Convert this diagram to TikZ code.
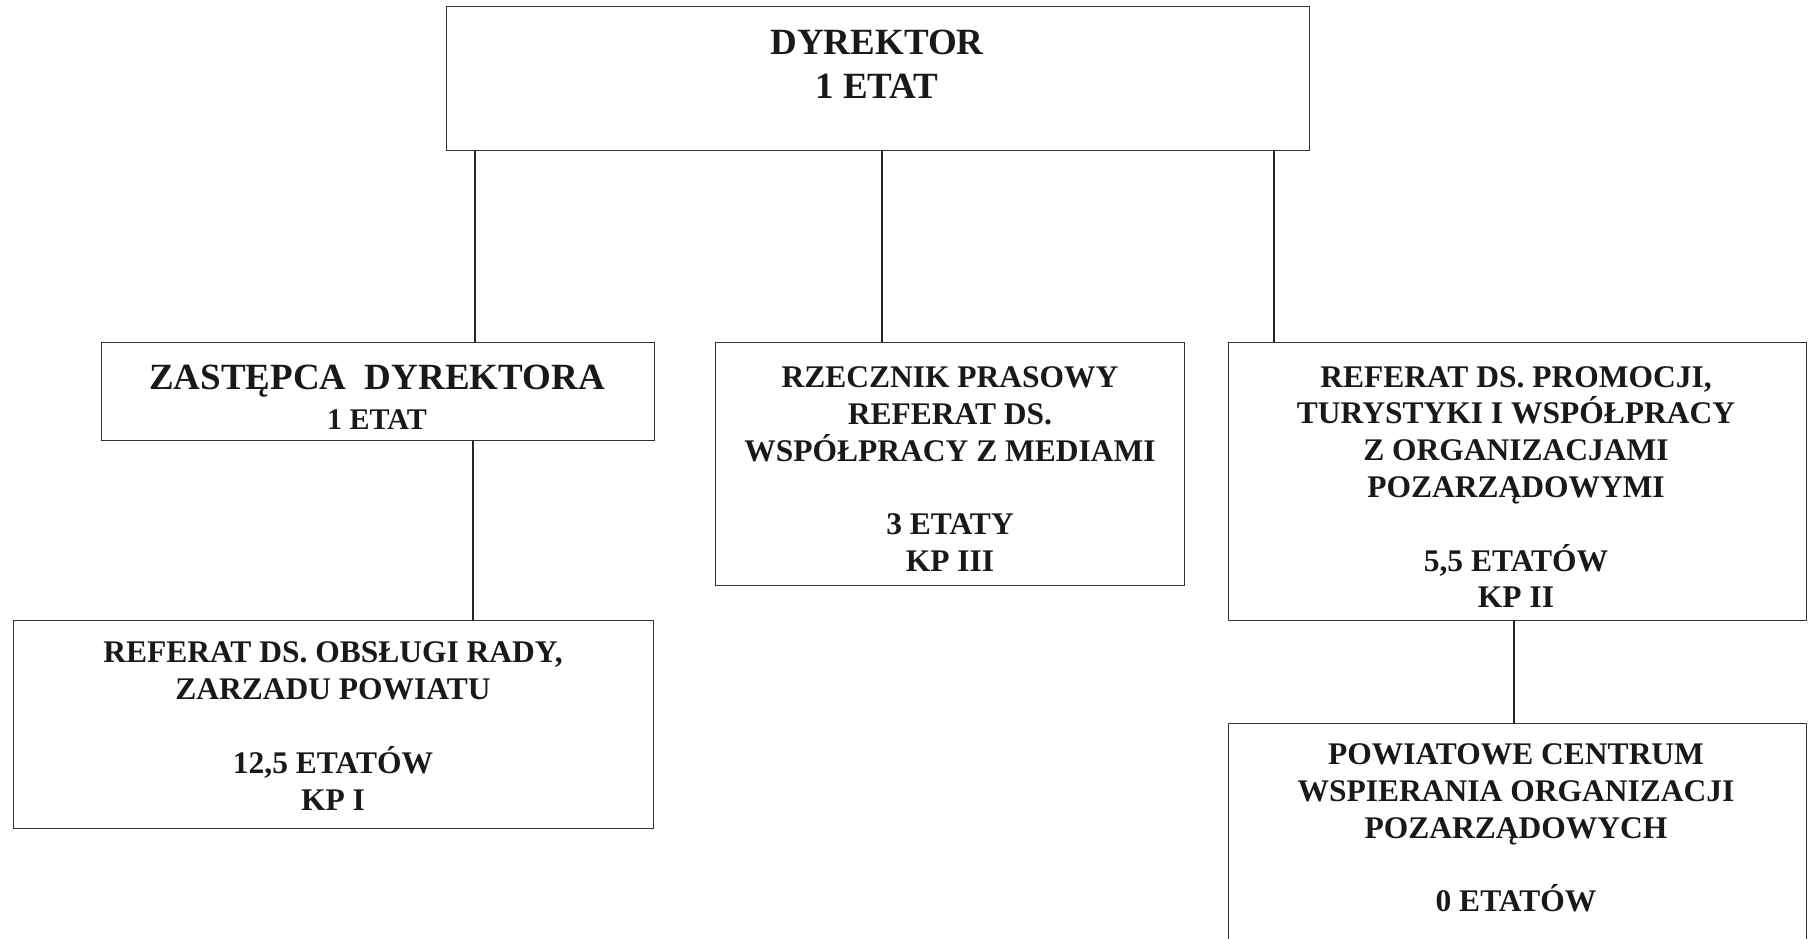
\documentclass[tikz,border=0pt]{standalone}
\usepackage{fontspec}
\setmainfont{Liberation Serif}
\begin{document}
\begin{tikzpicture}[x=1pt,y=-1pt,
  box/.style={draw=black!80, line width=1.3pt, rectangle, inner sep=0pt, anchor=north west},
  txt/.style={align=center, inner sep=0pt, font=\bfseries\fontsize{31.5}{36.8}\selectfont, text=black!90},
  wire/.style={draw=black!85, line width=1.3pt}]
\useasboundingbox (0,0) rectangle (1808,939);
% boxes
\node[box, minimum width=863, minimum height=144] (dyr) at (446,6) {};
\node[box, minimum width=553, minimum height=98] (zas) at (101,342) {};
\node[box, minimum width=469, minimum height=243] (rze) at (715,342) {};
\node[box, minimum width=578, minimum height=278] (pro) at (1228,342) {};
\node[box, minimum width=640, minimum height=208] (obs) at (13,620) {};
\node[box, minimum width=578, minimum height=240] (pow) at (1228,723) {};
% texts
\node[txt, font=\bfseries\fontsize{37}{44}\selectfont] (dyrt) at (877,64) {DYREKTOR\\1 ETAT};
\node[txt, font=\bfseries\fontsize{37}{40}\selectfont] (zast) at (377,397) {ZASTĘPCA\ \ DYREKTORA\\{\fontsize{30}{30}\selectfont 1 ETAT}};
\node[txt] (rzet) at (950,469) {RZECZNIK PRASOWY\\REFERAT DS.\\WSPÓŁPRACY Z MEDIAMI\\[36.8pt]3 ETATY\\KP III};
\node[txt] (prot) at (1516,487) {REFERAT DS. PROMOCJI,\\TURYSTYKI I WSPÓŁPRACY\\Z ORGANIZACJAMI\\POZARZĄDOWYMI\\[36.8pt]5,5 ETATÓW\\KP II};
\node[txt] (obst) at (333,726) {REFERAT DS. OBSŁUGI RADY,\\ZARZADU POWIATU\\[36.8pt]12,5 ETATÓW\\KP I};
\node[txt] (powt) at (1516,828) {POWIATOWE CENTRUM\\WSPIERANIA ORGANIZACJI\\POZARZĄDOWYCH\\[36.8pt]0 ETATÓW};
% connector columns
\coordinate (c1) at (475,0);
\coordinate (c2) at (882,0);
\coordinate (c3) at (1274,0);
\coordinate (c4) at (473,0);
\coordinate (c5) at (1514,0);
\draw[wire] (dyr.south -| c1) -- (zas.north -| c1);
\draw[wire] (dyr.south -| c2) -- (rze.north -| c2);
\draw[wire] (dyr.south -| c3) -- (pro.north -| c3);
\draw[wire] (zas.south -| c4) -- (obs.north -| c4);
\draw[wire] (pro.south -| c5) -- (pow.north -| c5);
\end{tikzpicture}
\end{document}
